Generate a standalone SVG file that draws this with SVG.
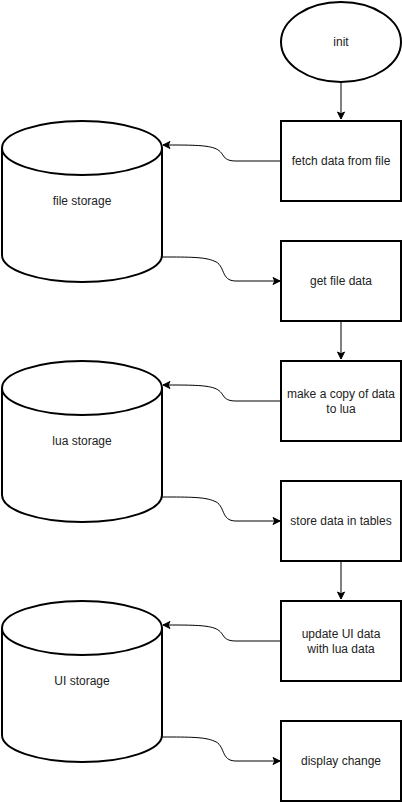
<svg xmlns="http://www.w3.org/2000/svg" width="402" height="802" viewBox="0 0 402 802">
<style>
.s{fill:#fff;stroke:#000;stroke-width:2}
.c{fill:none;stroke:#000;stroke-width:1}
.t{font-family:"Liberation Sans",Arial,sans-serif;font-size:12px;fill:#222;text-anchor:middle}
</style>
<defs>
<marker id="a" markerWidth="10" markerHeight="10" refX="8" refY="5" orient="auto" markerUnits="userSpaceOnUse">
<path d="M1,1.5 L8,5 L1,8.5 L2.8,5 Z" fill="#000" stroke="#000" stroke-width="1"/>
</marker>
</defs>
<rect width="402" height="802" fill="#fff"/>
<g id="init"><ellipse class="s" cx="341" cy="42" rx="60" ry="40"/><text class="t" x="341" y="46">init</text></g>
<g id="fetch"><rect class="s" x="281" y="121" width="120" height="80"/><text class="t" x="341" y="165">fetch data from file</text></g>
<g id="getfile"><rect class="s" x="281" y="241" width="120" height="80"/><text class="t" x="341" y="285">get file data</text></g>
<g id="copy"><rect class="s" x="281" y="361" width="120" height="80"/><text class="t" x="341" y="398">make a copy of data</text><text class="t" x="341" y="413">to lua</text></g>
<g id="store"><rect class="s" x="281" y="481" width="120" height="80"/><text class="t" x="341" y="525">store data in tables</text></g>
<g id="update"><rect class="s" x="281" y="601" width="120" height="80"/><text class="t" x="341" y="638">update UI data</text><text class="t" x="341" y="653">with lua data</text></g>
<g id="display"><rect class="s" x="281" y="721" width="120" height="80"/><text class="t" x="341" y="765">display change</text></g>
<g id="filestorage"><path class="s" d="M2,148 A80,27 0 0 1 162,148 L162,255 A80,27 0 0 1 2,255 Z"/><path class="s" fill="none" d="M2,148 A80,27 0 0 0 162,148"/><text class="t" x="82" y="205">file storage</text></g>
<g id="luastorage"><path class="s" d="M2,388 A80,27 0 0 1 162,388 L162,495 A80,27 0 0 1 2,495 Z"/><path class="s" fill="none" d="M2,388 A80,27 0 0 0 162,388"/><text class="t" x="82" y="445">lua storage</text></g>
<g id="uistorage"><path class="s" d="M2,628 A80,27 0 0 1 162,628 L162,735 A80,27 0 0 1 2,735 Z"/><path class="s" fill="none" d="M2,628 A80,27 0 0 0 162,628"/><text class="t" x="82" y="685">UI storage</text></g>
<g id="connectors">
<path class="c" d="M341,82 L341,119" marker-end="url(#a)"/>
<path class="c" d="M341,321 L341,359" marker-end="url(#a)"/>
<path class="c" d="M341,561 L341,599" marker-end="url(#a)"/>
<path class="c" d="M281,161 L236,161 C220,161 226,152 214,148 C205,145 190,145 163,145" marker-end="url(#a)"/>
<path class="c" d="M162,257 C190,257 205,257 214,261 C226,265 220,281 236,281 L280,281" marker-end="url(#a)"/>
<path class="c" d="M281,401 L236,401 C220,401 226,392 214,388 C205,385 190,385 163,385" marker-end="url(#a)"/>
<path class="c" d="M162,497 C190,497 205,497 214,501 C226,505 220,521 236,521 L280,521" marker-end="url(#a)"/>
<path class="c" d="M281,641 L236,641 C220,641 226,632 214,628 C205,625 190,625 163,625" marker-end="url(#a)"/>
<path class="c" d="M162,737 C190,737 205,737 214,741 C226,745 220,761 236,761 L280,761" marker-end="url(#a)"/>
</g>
</svg>
